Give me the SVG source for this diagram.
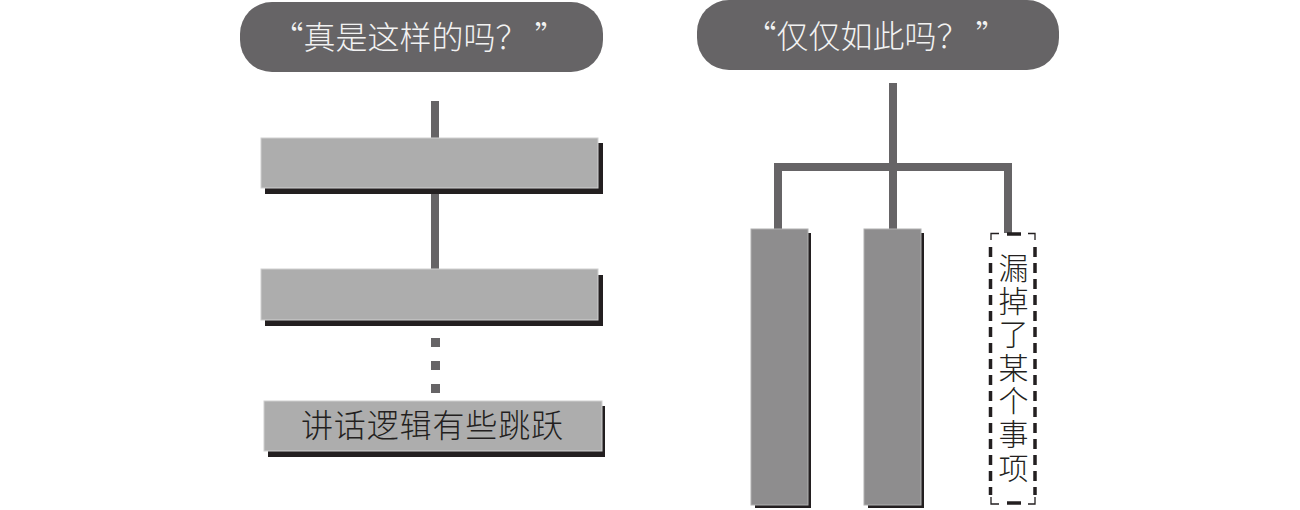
<svg xmlns="http://www.w3.org/2000/svg" width="1300" height="510" viewBox="0 0 1300 510">
<style>
.bubble{fill:#666466}
.btxt{fill:#f2f2f2;font-family:"Noto Sans CJK SC","Liberation Sans",sans-serif;font-size:32px;font-weight:300;text-anchor:middle}
.conn{stroke:#666466;stroke-width:8;fill:none}
.shadow{fill:#231f20}
.boxL{fill:#adadad;stroke:#d0d0d0;stroke-width:1}
.boxD{fill:#8e8d8e;stroke:#b0b0b0;stroke-width:1}
.txt{fill:#231f20;font-family:"Noto Sans CJK SC","Liberation Sans",sans-serif;font-size:32px;font-weight:300;text-anchor:middle}
.vtxt{fill:#231f20;font-family:"Noto Sans CJK SC","Liberation Sans",sans-serif;font-size:30px;font-weight:300;text-anchor:middle}
.dot{fill:#666466}
.dash{stroke:#231f20;stroke-width:3.5;fill:none}
.corner{stroke:#231f20;stroke-width:1.3;fill:none}
</style>
<g id="connectors">
<line class="conn" x1="435" y1="101" x2="435" y2="140"/>
<line class="conn" x1="435" y1="190" x2="435" y2="271"/>
<rect class="dot" x="431" y="338" width="9" height="9"/>
<rect class="dot" x="431" y="361" width="9" height="9"/>
<rect class="dot" x="431" y="384" width="9" height="9"/>
<line class="conn" x1="893" y1="83" x2="893" y2="231"/>
<polyline class="conn" points="778,231 778,167 1008,167 1008,233"/>
</g>
<g id="bubble-left">
<rect class="bubble" x="240" y="2" width="363" height="70" rx="32" ry="32"/>
<text class="btxt" x="419" y="49">“真是这样的吗？ ”</text>
</g>
<g id="bubble-right">
<rect class="bubble" x="697" y="0" width="362" height="70" rx="32" ry="32"/>
<text class="btxt" x="876" y="48">“仅仅如此吗？ ”</text>
</g>
<g id="box1">
<rect class="shadow" x="265" y="143" width="338" height="51"/>
<rect class="boxL" x="261" y="138" width="337" height="50"/>
</g>
<g id="box2">
<rect class="shadow" x="265" y="275" width="338" height="51"/>
<rect class="boxL" x="261" y="269" width="337" height="51"/>
</g>
<g id="box3">
<rect class="shadow" x="268" y="406" width="337" height="51"/>
<rect class="boxL" x="264" y="401" width="338" height="50"/>
<text class="txt" x="432" y="437" textLength="262" lengthAdjust="spacing">讲话逻辑有些跳跃</text>
</g>
<g id="col1">
<rect class="shadow" x="755" y="233" width="56" height="275"/>
<rect class="boxD" x="751" y="229" width="57" height="276"/>
</g>
<g id="col2">
<rect class="shadow" x="868" y="233" width="56" height="275"/>
<rect class="boxD" x="864" y="229" width="57" height="276"/>
</g>
<g id="col3">
<path class="corner" d="M991,240 V233.5 H999 M1028,233.5 H1035 V240 M991,497 V504 H999 M1028,504 H1035 V497"/>
<line class="dash" x1="1007" y1="234" x2="1021" y2="234"/>
<line class="dash" x1="1007" y1="503" x2="1021" y2="503"/>
<line class="dash" x1="990.5" y1="247" x2="990.5" y2="495" stroke-dasharray="10 6"/>
<line class="dash" x1="1035" y1="247" x2="1035" y2="495" stroke-dasharray="10 6"/>
<g class="vtxt">
<text x="1013.5" y="279">漏</text>
<text x="1013.5" y="312">掉</text>
<text x="1013.5" y="345">了</text>
<text x="1013.5" y="379">某</text>
<text x="1013.5" y="412">个</text>
<text x="1013.5" y="445">事</text>
<text x="1013.5" y="479">项</text>
</g>
</g>
</svg>
